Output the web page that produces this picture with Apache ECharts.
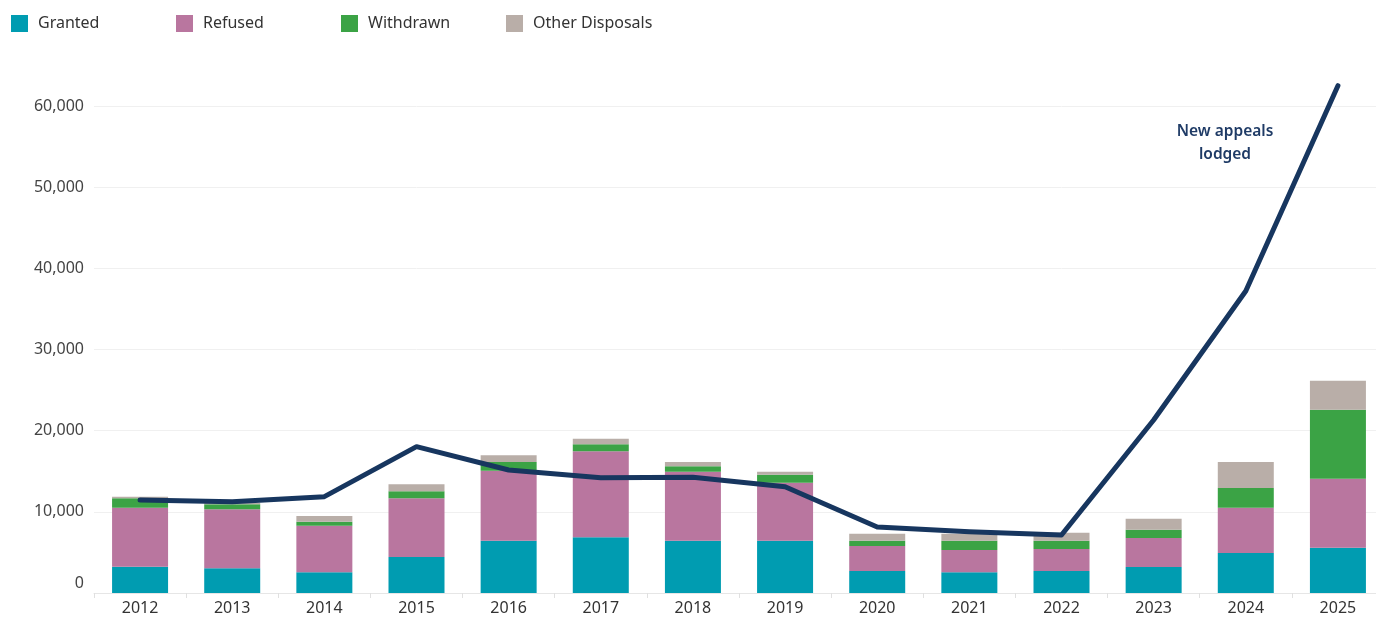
<!DOCTYPE html>
<html>
<head>
<meta charset="utf-8">
<script src="https://cdn.jsdelivr.net/npm/echarts@6/dist/echarts.min.js"></script>
<style>
  html, body { margin: 0; padding: 0; background: #fff; overflow: hidden; }
  #chart { width: 1384px; height: 618px; }
</style>
</head>
<body>
<div id="chart"></div>
<script>
const years = ['2012', '2013', '2014', '2015', '2016', '2017', '2018', '2019', '2020', '2021', '2022', '2023', '2024', '2025']
const granted = [3240, 3040, 2550, 4440, 6450, 6860, 6440, 6440, 2710, 2550, 2710, 3200, 4930, 5580]
const refused = [7270, 7270, 5740, 7220, 8620, 10600, 8510, 7150, 3080, 2750, 2710, 3580, 5580, 8500]
const withdrawn = [1160, 620, 500, 870, 1070, 860, 660, 990, 660, 1150, 1030, 1020, 2430, 8500]
const other = [190, 160, 700, 860, 820, 690, 530, 370, 860, 860, 980, 1350, 3200, 3580]
const newAppeals = [11460, 11250, 11870, 18030, 15150, 14200, 14250, 13100, 8130, 7550, 7150, 21310, 37210, 62500]
const yTicks = [0, 10000, 20000, 30000, 40000, 50000, 60000]

const colors = {
  Granted: '#009cb1',
  Refused: '#b9769f',
  Withdrawn: '#3ba345',
  'Other Disposals': '#b9aea8'
}

const chart = echarts.init(document.getElementById('chart'))

function legendAt(name, left) {
  return {
    left: left,
    top: 15,
    padding: 0,
    icon: 'rect',
    itemWidth: 17,
    itemHeight: 17,
    data: [name],
    selectedMode: false,
    textStyle: { fontSize: 16, color: '#333', fontFamily: 'Noto Sans', padding: [0, 0, 0, 5] }
  }
}

function barSeries(name, data) {
  return {
    name: name,
    type: 'bar',
    stack: 'disposals',
    barWidth: 56,
    data: data,
    itemStyle: { color: colors[name] }
  }
}

const option = {
  animation: false,
  textStyle: { fontFamily: 'Noto Sans' },
  legend: [
    legendAt('Granted', 11),
    legendAt('Refused', 176),
    legendAt('Withdrawn', 341),
    legendAt('Other Disposals', 506)
  ],
  grid: { left: 94, right: 0, top: 106, bottom: 25 },
  xAxis: {
    type: 'category',
    data: years,
    axisLine: { lineStyle: { color: '#e6e6e6' } },
    axisTick: { show: true, length: 5, lineStyle: { color: '#e0e0e0' } },
    axisLabel: { color: '#333', fontSize: 16, margin: 7 }
  },
  yAxis: {
    type: 'value',
    min: yTicks[0],
    max: yTicks[yTicks.length - 1],
    interval: yTicks[1] - yTicks[0],
    axisLine: { show: false },
    axisTick: { show: false },
    splitLine: { lineStyle: { color: '#f0f0f0' } },
    axisLabel: {
      color: '#444',
      fontSize: 16,
      margin: 10,
      formatter: v => v === 0 ? '{z|0}' : v.toLocaleString('en-US'),
      rich: { z: { fontSize: 16, color: '#444', padding: [0, 0, 20, 0] } }
    }
  },
  graphic: [
    {
      type: 'text',
      x: 1225,
      y: 120,
      style: {
        text: 'New appeals\nlodged',
        align: 'center',
        textAlign: 'center',
        fill: '#1f3b66',
        fontSize: 15.5,
        fontWeight: 600,
        lineHeight: 23,
        fontFamily: 'Noto Sans'
      }
    }
  ],
  series: [
    barSeries('Granted', granted),
    barSeries('Refused', refused),
    barSeries('Withdrawn', withdrawn),
    barSeries('Other Disposals', other),
    {
      name: 'New appeals lodged',
      type: 'line',
      data: newAppeals,
      symbol: 'none',
      clip: false,
      z: 5,
      lineStyle: { color: '#17365f', width: 5, cap: 'round', join: 'round' }
    }
  ]
}

chart.setOption(option)
</script>
</body>
</html>
